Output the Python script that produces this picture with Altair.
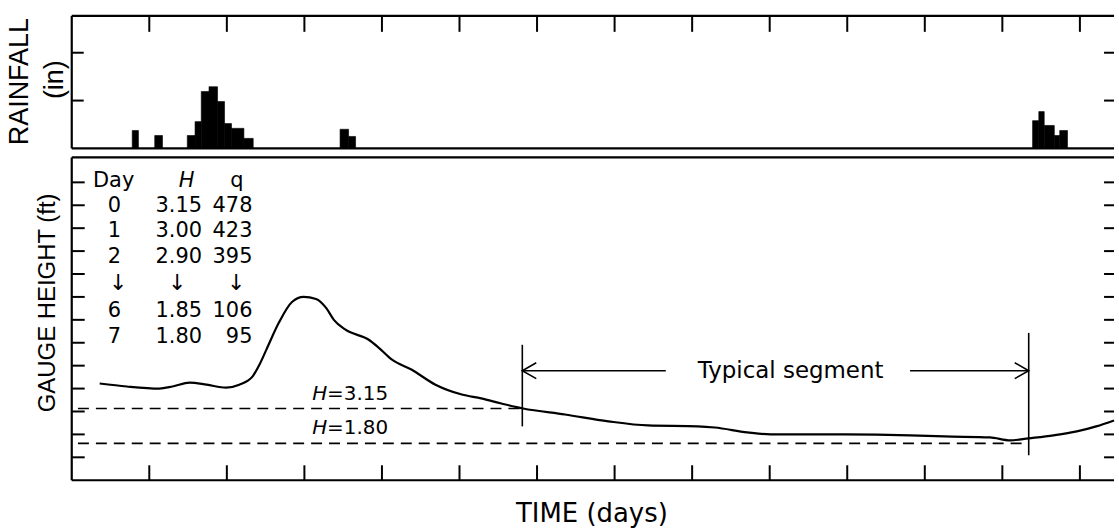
import altair as alt
import pandas as pd

# ---------------- data ----------------
# Rainfall bars: start / end time (days) and depth (chart units; axis ticks at 1 and 2)
rain_start = [0.78, 1.07, 1.49, 1.59, 1.67, 1.77, 1.88, 1.97, 2.06, 2.22, 3.46, 3.57,
              12.39, 12.47, 12.54, 12.67, 12.74]
rain_end = [0.86, 1.17, 1.59, 1.67, 1.77, 1.88, 1.97, 2.06, 2.22, 2.34, 3.57, 3.66,
            12.47, 12.54, 12.67, 12.74, 12.84]
rain_depth = [0.375, 0.27, 0.27, 0.56, 1.19, 1.29, 0.98, 0.52, 0.42, 0.21, 0.40, 0.25,
              0.58, 0.77, 0.48, 0.27, 0.375]

# Gauge-height hydrograph (time in days, height in tick units)
time_days = [0.36, 0.71, 1.13, 1.30, 1.52, 1.74, 1.99, 2.16, 2.33, 2.42,
             2.51, 2.67, 2.84, 2.99, 3.15, 3.28, 3.38, 3.53, 3.83, 3.96,
             4.13, 4.38, 4.69, 5.03, 5.28, 5.54, 5.82, 6.36, 6.92, 7.43,
             8.07, 8.29, 8.71, 9.01, 9.61, 9.96, 10.81, 11.25, 11.84, 12.10,
             12.34, 12.66, 12.96, 13.21, 13.44]
gauge = [4.22, 4.09, 4.00, 4.09, 4.26, 4.17, 4.04, 4.17, 4.52, 5.04,
         5.70, 6.87, 7.78, 8.00, 7.91, 7.52, 7.00, 6.57, 6.13, 5.78,
         5.26, 4.83, 4.17, 3.74, 3.57, 3.35, 3.13, 2.87, 2.57, 2.39,
         2.35, 2.30, 2.09, 2.00, 2.00, 2.00, 1.96, 1.91, 1.87, 1.74,
         1.83, 1.96, 2.13, 2.35, 2.61]

# Dashed reference levels H=3.15 and H=1.80
h_level = [3.13, 1.61]
h_from = [0.08, 0.08]
h_to = [5.81, 12.34]
h_label = ["=3.15", "=1.80"]
h_label_y = [3.52, 2.00]
h_label_x = [3.10, 3.10]

# Typical segment
seg_start, seg_end = 5.81, 12.34
seg_left_y = [2.35, 5.91]
seg_right_y = [1.09, 6.43]
seg_arrow_y = 4.78
seg_shaft_left_end = 7.66
seg_shaft_right_start = 10.81
seg_text = "Typical segment"
seg_text_x = 9.27

# Table
tab_header = ["Day", "H", "q"]
tab_day = ["0", "1", "2", "6", "7"]
tab_H = ["3.15", "3.00", "2.90", "1.85", "1.80"]
tab_q = ["478", "423", "395", "106", "95"]
tab_row_y = [11.70, 10.61, 9.48, 7.13, 6.00]
tab_header_y = 12.78
tab_arrow_y = 8.30
tab_col_x = [0.55, 1.68, 2.33]        # day centre, H right edge, q right edge
tab_head_x = [0.54, 1.48, 2.13]
tab_arrow_x = [0.60, 1.36, 2.12]

# Axis titles
title_rain = ["RAINFALL", "(in)"]
title_gauge = "GAUGE HEIGHT (ft)"
title_time = "TIME (days)"

# Axis tick positions
x_ticks = list(range(1, 14))
rain_ticks = [1, 2]
gauge_ticks = list(range(1, 14))

# ---------------- layout ----------------
W = 1046
H_TOP = 133
H_BOT = 324
XMAX = 13.44
BLACK = "#000000"
SANS = "Liberation Sans"
GEO = "DejaVu Sans"

xs = alt.Scale(domain=[0, XMAX], nice=False, zero=False)
ys_top = alt.Scale(domain=[0, 2.77], nice=False)
ys_bot = alt.Scale(domain=[0, 14.09], nice=False)

one = pd.DataFrame({"k": [0]})

rain_df = pd.DataFrame({"start": rain_start, "end": rain_end, "depth": rain_depth})
gauge_df = pd.DataFrame({"t": time_days, "g": gauge})
xt_df = pd.DataFrame({"d": x_ticks})
rt_df = pd.DataFrame({"v": rain_ticks})
gt_df = pd.DataFrame({"v": gauge_ticks})
h_df = pd.DataFrame({"lvl": h_level, "x0": h_from, "x1": h_to,
                     "lab": h_label, "ly": h_label_y, "lx": h_label_x})


def border(w, h):
    base = alt.Chart(one).mark_rule(color=BLACK, strokeWidth=2.2)
    return [
        base.encode(x=alt.value(0), x2=alt.value(w), y=alt.value(0)),
        base.encode(x=alt.value(0), x2=alt.value(w), y=alt.value(h)),
        base.encode(x=alt.value(0), y=alt.value(0), y2=alt.value(h)),
    ]


def label(text, x, y, size, font, angle=0):
    return alt.Chart(pd.DataFrame({"s": [text]})).mark_text(
        font=font, fontSize=size, angle=angle, align="center", baseline="middle",
        color=BLACK).encode(x=alt.value(x), y=alt.value(y), text="s:N")


# ---- top panel: rainfall ----
bars = alt.Chart(rain_df).mark_rect(color=BLACK, stroke=BLACK, strokeWidth=0.6).encode(
    x=alt.X("start:Q", scale=xs, axis=None),
    x2="end:Q",
    y=alt.Y("depth:Q", scale=ys_top, axis=None),
    y2=alt.datum(0),
)
top_xt = alt.Chart(xt_df).mark_rule(color=BLACK, strokeWidth=2).encode(
    x=alt.X("d:Q", scale=xs, axis=None), y=alt.value(0), y2=alt.value(16))
top_yl = alt.Chart(rt_df).mark_rule(color=BLACK, strokeWidth=2).encode(
    y=alt.Y("v:Q", scale=ys_top, axis=None), x=alt.value(0), x2=alt.value(12))
top_yr = alt.Chart(rt_df).mark_rule(color=BLACK, strokeWidth=2).encode(
    y=alt.Y("v:Q", scale=ys_top, axis=None), x=alt.value(W), x2=alt.value(W - 10))
rain_t1 = label(title_rain[0], -52, 66, 27, SANS, 270)
rain_t2 = label(title_rain[1], -17, 64, 27, SANS, 270)

top = alt.layer(bars, top_xt, top_yl, top_yr, rain_t1, rain_t2,
                *border(W, H_TOP)).properties(width=W, height=H_TOP)

# ---- bottom panel: gauge height ----
line = alt.Chart(gauge_df).mark_line(color=BLACK, strokeWidth=2.2, interpolate="monotone").encode(
    x=alt.X("t:Q", scale=xs, axis=None),
    y=alt.Y("g:Q", scale=ys_bot, axis=None),
)
dashes = alt.Chart(h_df).mark_rule(color=BLACK, strokeWidth=1.6, strokeDash=[11, 7]).encode(
    x=alt.X("x0:Q", scale=xs, axis=None), x2="x1:Q",
    y=alt.Y("lvl:Q", scale=ys_bot, axis=None))
h_italic = alt.Chart(h_df).mark_text(font=GEO, fontSize=20, fontStyle="italic", align="left",
                                     baseline="alphabetic", color=BLACK).encode(
    x=alt.X("lx:Q", scale=xs, axis=None), y=alt.Y("ly:Q", scale=ys_bot, axis=None),
    text=alt.value("H"))
h_rest = alt.Chart(h_df).mark_text(font=GEO, fontSize=20, align="left", dx=15,
                                   baseline="alphabetic", color=BLACK).encode(
    x=alt.X("lx:Q", scale=xs, axis=None), y=alt.Y("ly:Q", scale=ys_bot, axis=None),
    text="lab:N")

bot_xt = alt.Chart(xt_df).mark_rule(color=BLACK, strokeWidth=2).encode(
    x=alt.X("d:Q", scale=xs, axis=None), y=alt.value(H_BOT), y2=alt.value(H_BOT - 15))
bot_yl = alt.Chart(gt_df).mark_rule(color=BLACK, strokeWidth=2).encode(
    y=alt.Y("v:Q", scale=ys_bot, axis=None), x=alt.value(0), x2=alt.value(13))
bot_yr = alt.Chart(gt_df).mark_rule(color=BLACK, strokeWidth=2).encode(
    y=alt.Y("v:Q", scale=ys_bot, axis=None), x=alt.value(W), x2=alt.value(W - 10))

seg_df = pd.DataFrame({"x": [seg_start, seg_end],
                       "y0": [seg_left_y[0], seg_right_y[0]],
                       "y1": [seg_left_y[1], seg_right_y[1]]})
seg_v = alt.Chart(seg_df).mark_rule(color=BLACK, strokeWidth=1.6).encode(
    x=alt.X("x:Q", scale=xs, axis=None),
    y=alt.Y("y0:Q", scale=ys_bot, axis=None), y2="y1:Q")
shaft_df = pd.DataFrame({"a": [seg_start, seg_shaft_right_start],
                         "b": [seg_shaft_left_end, seg_end],
                         "y": [seg_arrow_y, seg_arrow_y]})
shafts = alt.Chart(shaft_df).mark_rule(color=BLACK, strokeWidth=1.6).encode(
    x=alt.X("a:Q", scale=xs, axis=None), x2="b:Q",
    y=alt.Y("y:Q", scale=ys_bot, axis=None))
head_l = alt.Chart(pd.DataFrame({"x": [seg_start], "y": [seg_arrow_y]})).mark_point(
    shape="M1,-0.57L0,0L1,0.57", filled=False, size=784, strokeWidth=1.6,
    color=BLACK, opacity=1).encode(
    x=alt.X("x:Q", scale=xs, axis=None), y=alt.Y("y:Q", scale=ys_bot, axis=None))
head_r = alt.Chart(pd.DataFrame({"x": [seg_end], "y": [seg_arrow_y]})).mark_point(
    shape="M-1,-0.57L0,0L-1,0.57", filled=False, size=784, strokeWidth=1.6,
    color=BLACK, opacity=1).encode(
    x=alt.X("x:Q", scale=xs, axis=None), y=alt.Y("y:Q", scale=ys_bot, axis=None))
seg_lbl = alt.Chart(pd.DataFrame({"x": [seg_text_x], "y": [seg_arrow_y], "s": [seg_text]})).mark_text(
    font=GEO, fontSize=23, align="center", baseline="middle", color=BLACK).encode(
    x=alt.X("x:Q", scale=xs, axis=None), y=alt.Y("y:Q", scale=ys_bot, axis=None), text="s:N")

# table
tab_df = pd.DataFrame({"day": tab_day, "H": tab_H, "q": tab_q, "y": tab_row_y,
                       "xd": [tab_col_x[0]] * 5, "xh": [tab_col_x[1]] * 5,
                       "xq": [tab_col_x[2]] * 5})
TF = dict(font=GEO, fontSize=21, baseline="alphabetic", color=BLACK)
t_day = alt.Chart(tab_df).mark_text(align="center", **TF).encode(
    x=alt.X("xd:Q", scale=xs, axis=None), y=alt.Y("y:Q", scale=ys_bot, axis=None), text="day:N")
t_H = alt.Chart(tab_df).mark_text(align="right", **TF).encode(
    x=alt.X("xh:Q", scale=xs, axis=None), y=alt.Y("y:Q", scale=ys_bot, axis=None), text="H:N")
t_q = alt.Chart(tab_df).mark_text(align="right", **TF).encode(
    x=alt.X("xq:Q", scale=xs, axis=None), y=alt.Y("y:Q", scale=ys_bot, axis=None), text="q:N")
head_df = pd.DataFrame({"s": tab_header, "x": tab_head_x, "y": [tab_header_y] * 3})
t_head_n = alt.Chart(head_df).transform_filter("datum.s != 'H'").mark_text(
    align="center", **TF).encode(
    x=alt.X("x:Q", scale=xs, axis=None), y=alt.Y("y:Q", scale=ys_bot, axis=None), text="s:N")
t_head_i = alt.Chart(head_df).transform_filter("datum.s == 'H'").mark_text(
    align="center", fontStyle="italic", **TF).encode(
    x=alt.X("x:Q", scale=xs, axis=None), y=alt.Y("y:Q", scale=ys_bot, axis=None), text="s:N")
arrow_df = pd.DataFrame({"x": tab_arrow_x, "y": [tab_arrow_y] * 3})
t_arrows = alt.Chart(arrow_df).mark_text(align="center", font=GEO, fontSize=22,
                                         baseline="alphabetic", color=BLACK).encode(
    x=alt.X("x:Q", scale=xs, axis=None), y=alt.Y("y:Q", scale=ys_bot, axis=None),
    text=alt.value("\u2193"))

gauge_t = label(title_gauge, -24, 146, 24, SANS, 270)
time_t = label(title_time, 522, H_BOT + 34, 26, GEO)

bottom = alt.layer(line, dashes, h_italic, h_rest, bot_xt, bot_yl, bot_yr,
                   seg_v, shafts, head_l, head_r, seg_lbl,
                   t_day, t_H, t_q, t_head_n, t_head_i, t_arrows, gauge_t, time_t,
                   *border(W, H_BOT)).properties(width=W, height=H_BOT)

chart = alt.vconcat(top, bottom, spacing=5).properties(
    padding={"left": 6, "top": 13, "right": 0, "bottom": 0},
    background="white",
).configure_view(stroke=None)

chart.save("out.html", embed_options={"renderer": "svg", "actions": False})
